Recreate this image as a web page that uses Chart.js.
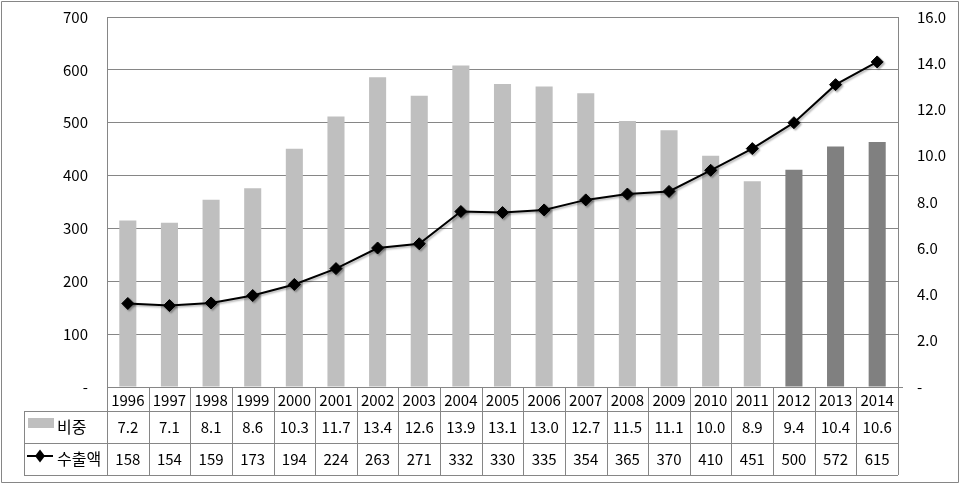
<!DOCTYPE html>
<html>
<head>
<meta charset="utf-8">
<script src="https://cdn.jsdelivr.net/npm/chart.js@4"></script>
<style>
  html, body { margin: 0; padding: 0; background: #fff; }
  #wrap { width: 960px; height: 484px; }
</style>
</head>
<body>
<div id="wrap"><canvas id="chart" width="960" height="484"></canvas></div>
<script>
const years = ["1996", "1997", "1998", "1999", "2000", "2001", "2002", "2003", "2004", "2005",
               "2006", "2007", "2008", "2009", "2010", "2011", "2012", "2013", "2014"];
const shareValues = [7.2, 7.1, 8.1, 8.6, 10.3, 11.7, 13.4, 12.6, 13.9, 13.1,
                     13.0, 12.7, 11.5, 11.1, 10.0, 8.9, 9.4, 10.4, 10.6];   // 비중
const exportValues = [158, 154, 159, 173, 194, 224, 263, 271, 332, 330,
                      335, 354, 365, 370, 410, 451, 500, 572, 615];        // 수출액
const shareLabel = "비중";
const exportLabel = "수출액";
const projectedFrom = "2012";

const FONT = "'Noto Sans CJK KR', 'Noto Sans', sans-serif";
const GRID = "#868686";
const LIGHT = "#bfbfbf";
const DARK = "#808080";

const tablePlugin = {
  id: "dataTable",
  beforeDatasetDraw(chart, args) {
    if (args.index === 0) {
      const c = chart.ctx;
      c.save();
      c.shadowColor = "rgba(0,0,0,0.3)";
      c.shadowOffsetX = 1.5;
      c.shadowOffsetY = 1.5;
      c.shadowBlur = 2;
    }
  },
  afterDatasetDraw(chart, args) {
    if (args.index === 0) chart.ctx.restore();
  },
  afterDraw(chart) {
    const c = chart.ctx;
    const { left, right, bottom } = chart.chartArea;
    const xs = chart.scales.x;
    const n = years.length;
    const cw = (right - left) / n;
    const rows = [bottom, bottom + 24, bottom + 56, bottom + 88];
    const tableLeft = 24;

    c.save();
    c.strokeStyle = GRID;
    c.lineWidth = 1;
    c.beginPath();
    // horizontal lines
    for (let r = 1; r < rows.length; r++) {
      c.moveTo(tableLeft, Math.round(rows[r]) + 0.5);
      c.lineTo(right, Math.round(rows[r]) + 0.5);
    }
    // vertical lines
    for (let i = 0; i <= n; i++) {
      const x = Math.round(left + i * cw) + 0.5;
      c.moveTo(x, rows[0]);
      c.lineTo(x, rows[3]);
    }
    c.moveTo(tableLeft + 0.5, rows[1]);
    c.lineTo(tableLeft + 0.5, rows[3]);
    // axis extension at zero line
    c.moveTo(right, Math.round(bottom) + 0.5);
    c.lineTo(right + 5, Math.round(bottom) + 0.5);
    // outer border
    c.rect(1.5, 1.5, 957, 481);
    c.stroke();

    c.fillStyle = "#000";
    c.font = "15px " + FONT;
    c.textAlign = "center";
    c.textBaseline = "middle";
    years.forEach((y, i) => {
      const cx = xs.getPixelForValue(i);
      c.fillText(y, cx, (rows[0] + rows[1]) / 2 + 1);
      c.fillText(shareValues[i].toFixed(1), cx, (rows[1] + rows[2]) / 2);
      c.fillText(String(exportValues[i]), cx, (rows[2] + rows[3]) / 2);
    });

    // legend keys inside table
    const y2 = (rows[1] + rows[2]) / 2;
    const y3 = (rows[2] + rows[3]) / 2;
    c.fillStyle = LIGHT;
    c.fillRect(28, y2 - 9, 26, 10);
    c.strokeStyle = "#000";
    c.lineWidth = 2;
    c.beginPath();
    c.moveTo(27, y3 - 3);
    c.lineTo(53, y3 - 3);
    c.stroke();
    c.fillStyle = "#000";
    c.beginPath();
    c.moveTo(40, y3 - 9.5);
    c.lineTo(45, y3 - 3);
    c.lineTo(40, y3 + 3.5);
    c.lineTo(35, y3 - 3);
    c.closePath();
    c.fill();
    c.textAlign = "left";
    c.font = "16px " + FONT;
    c.fillText(shareLabel, 57, y2);
    c.fillText(exportLabel, 57, y3);
    c.restore();
  }
};

new Chart(document.getElementById("chart").getContext("2d"), {
  type: "bar",
  data: {
    labels: years,
    datasets: [
      {
        type: "line",
        label: exportLabel,
        data: exportValues,
        yAxisID: "y",
        borderColor: "#000",
        borderWidth: 2,
        pointStyle: "rectRot",
        pointRadius: 6,
        pointBorderWidth: 1,
        pointBackgroundColor: "#000",
        pointBorderColor: "#000",
        tension: 0,
        order: 0,
      },
      {
        type: "bar",
        label: shareLabel,
        data: shareValues,
        yAxisID: "y2",
        backgroundColor: years.map(y => (y >= projectedFrom ? DARK : LIGHT)),
        barPercentage: 0.41,
        categoryPercentage: 1,
        order: 1,
      },
    ],
  },
  options: {
    responsive: false,
    animation: false,
    layout: { padding: { left: 0, right: 0, top: 17, bottom: 97 } },
    plugins: { legend: { display: false }, tooltip: { enabled: false } },
    scales: {
      x: { display: false },
      y: {
        position: "left",
        min: 0,
        max: 700,
        ticks: {
          stepSize: 100,
          padding: 19,
          color: "#000",
          font: { family: FONT, size: 15 },
          callback: v => (v === 0 ? "-" : v),
        },
        grid: { color: GRID, drawTicks: false },
        border: { color: GRID },
        afterFit(s) { s.width = 107; s.paddingTop = 0; s.paddingBottom = 0; },
      },
      y2: {
        position: "right",
        min: 0,
        max: 16,
        ticks: {
          stepSize: 2,
          padding: 19,
          color: "#000",
          font: { family: FONT, size: 15 },
          callback: v => (v === 0 ? "-" : v.toFixed(1)),
        },
        grid: { drawOnChartArea: false, drawTicks: false },
        border: { color: GRID },
        afterFit(s) { s.width = 62; s.paddingTop = 0; s.paddingBottom = 0; },
      },
    },
  },
  plugins: [tablePlugin],
});
</script>
</body>
</html>
